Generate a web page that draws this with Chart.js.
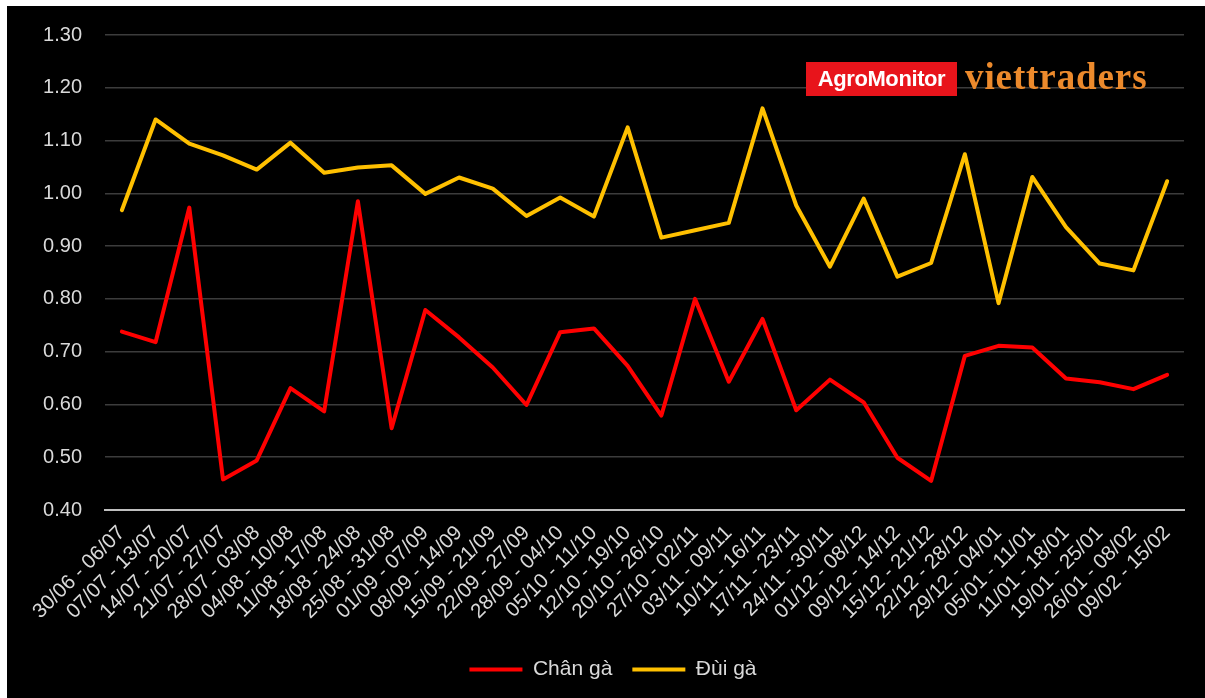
<!DOCTYPE html>
<html>
<head>
<meta charset="utf-8">
<script src="https://cdn.jsdelivr.net/npm/chart.js@4.4.1/dist/chart.umd.min.js"></script>
<style>
    html, body { margin: 0; padding: 0; background: #ffffff; }
    #wrap { position: absolute; left: 7px; top: 6px; width: 1198px; height: 692px; background: #000000; }
    #myLineChart { display: block; }
    .logo { position: absolute; top: 56px; left: 799px; height: 34px; white-space: nowrap; }
    .logo-agro { display: inline-block; vertical-align: top; background: #e8141b; color: #ffffff;
        font-family: Arial, "Liberation Sans", sans-serif; font-weight: bold; font-size: 22px; letter-spacing: -0.4px;
        height: 34px; line-height: 34px; width: 151px; text-align: center; }
    .logo-viet { display: inline-block; vertical-align: top; color: #ec8a2c; margin-left: 8px; margin-top: -3px;
        font-family: "Liberation Serif", "DejaVu Serif", serif; font-weight: bold; font-size: 37px;
        line-height: 36px; letter-spacing: 0.9px; }
</style>
</head>
<body>
<div id="wrap">
    <canvas id="myLineChart" width="1198" height="692"></canvas>
    <div class="logo"><span class="logo-agro">AgroMonitor</span><span class="logo-viet">viettraders</span></div>
</div>
<script>
    var weeks = [
        "30/06 - 06/07", "07/07 - 13/07", "14/07 - 20/07", "21/07 - 27/07", "28/07 - 03/08",
        "04/08 - 10/08", "11/08 - 17/08", "18/08 - 24/08", "25/08 - 31/08", "01/09 - 07/09",
        "08/09 - 14/09", "15/09 - 21/09", "22/09 - 27/09", "28/09 - 04/10", "05/10 - 11/10",
        "12/10 - 19/10", "20/10 - 26/10", "27/10 - 02/11", "03/11 - 09/11", "10/11 - 16/11",
        "17/11 - 23/11", "24/11 - 30/11", "01/12 - 08/12", "09/12 - 14/12", "15/12 - 21/12",
        "22/12 - 28/12", "29/12 - 04/01", "05/01 - 11/01", "11/01 - 18/01", "19/01 - 25/01",
        "26/01 - 08/02", "09/02 - 15/02"
    ];
    var chanGa = [
        0.738, 0.718, 0.973, 0.458, 0.494, 0.631, 0.587, 0.985, 0.555, 0.779,
        0.727, 0.670, 0.599, 0.737, 0.744, 0.673, 0.579, 0.800, 0.643, 0.762,
        0.589, 0.647, 0.604, 0.499, 0.455, 0.692, 0.711, 0.708, 0.649, 0.642,
        0.629, 0.656
    ];
    var duiGa = [
        0.968, 1.140, 1.094, 1.072, 1.045, 1.096, 1.039, 1.049, 1.053, 0.999,
        1.030, 1.009, 0.957, 0.992, 0.956, 1.125, 0.916, 0.930, 0.944, 1.161,
        0.977, 0.861, 0.990, 0.842, 0.868, 1.074, 0.792, 1.031, 0.936, 0.867,
        0.854, 1.023
    ];
    var yTicks = [0.4, 0.5, 0.6, 0.7, 0.8, 0.9, 1.0, 1.1, 1.2, 1.3];

    var textColor = '#d9d9d9';
    var fontName = 'Arial, "Liberation Sans", sans-serif';

    var ctx = document.getElementById("myLineChart").getContext('2d');
    var myLineChart = new Chart(ctx, {
        type: 'line',
        data: {
            labels: weeks,
            datasets: [{
                label: "Chân gà",
                data: chanGa,
                borderColor: '#ff0000',
                backgroundColor: '#ff0000',
                borderWidth: 4,
                borderCapStyle: 'round',
                borderJoinStyle: 'round',
                pointRadius: 0,
                tension: 0
            }, {
                label: "Đùi gà",
                data: duiGa,
                borderColor: '#ffc000',
                backgroundColor: '#ffc000',
                borderWidth: 4,
                borderCapStyle: 'round',
                borderJoinStyle: 'round',
                pointRadius: 0,
                tension: 0
            }]
        },
        options: {
            responsive: false,
            animation: false,
            // left padding keeps the legend centred where the plot sits
            layout: { padding: { left: 35, right: 21, top: 29, bottom: 8 } },
            plugins: {
                tooltip: { enabled: false },
                legend: {
                    position: 'bottom',
                    labels: {
                        color: textColor,
                        font: { family: fontName, size: 21 },
                        usePointStyle: true,
                        pointStyle: 'line',
                        pointStyleWidth: 53,
                        boxHeight: 21,
                        padding: 20
                    }
                }
            },
            scales: {
                x: {
                    offset: true,
                    grid: { display: false },
                    border: { display: true, color: '#bfbfbf', width: 2 },
                    ticks: {
                        color: textColor,
                        font: { family: fontName, size: 20.5 },
                        minRotation: 45,
                        maxRotation: 45,
                        autoSkip: false,
                        padding: 3
                    },
                    afterFit: function (scale) { scale.height = 129; }
                },
                y: {
                    min: 0.4,
                    max: 1.3,
                    afterBuildTicks: function (scale) {
                        scale.ticks = yTicks.map(function (v) { return { value: v }; });
                    },
                    grid: { color: '#3c3c3c', lineWidth: 1.5, drawTicks: false },
                    border: { display: false },
                    ticks: {
                        color: textColor,
                        font: { family: fontName, size: 20 },
                        padding: 23,
                        callback: function (v) { return v.toFixed(2); }
                    },
                    afterFit: function (scale) {
                        scale.width = 63;
                        scale.paddingTop = 0;
                        scale.paddingBottom = 0;
                    }
                }
            }
        }
    });
</script>
</body>
</html>
